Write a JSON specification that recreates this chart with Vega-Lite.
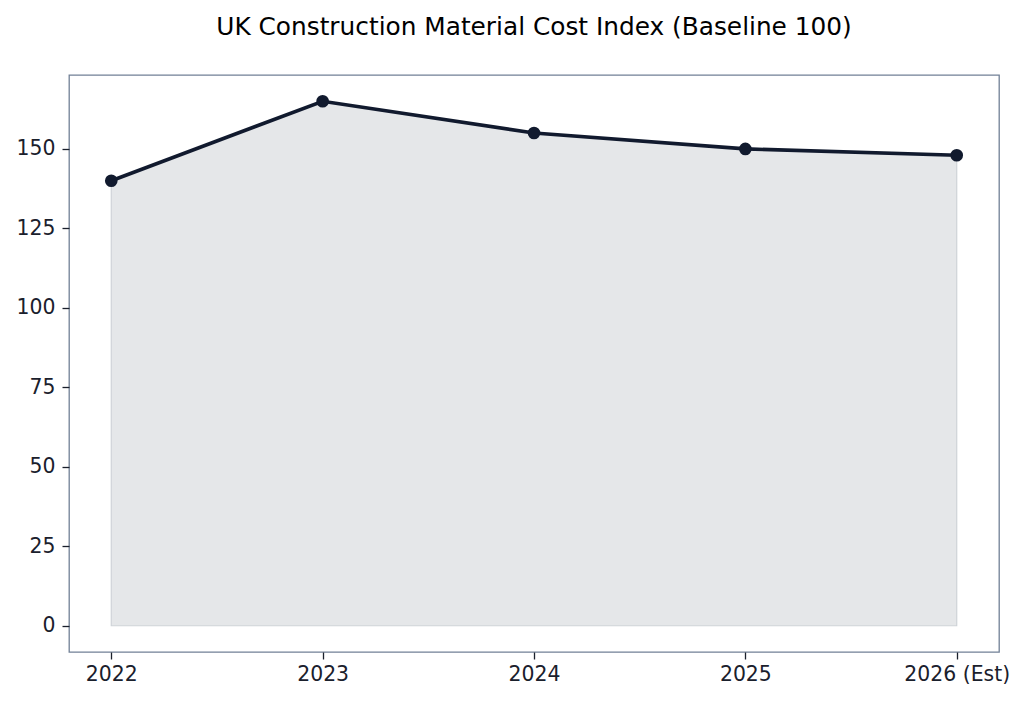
{
  "$schema": "https://vega.github.io/schema/vega-lite/v6.json",
  "width": 930,
  "height": 577,
  "autosize": {"type": "none"},
  "padding": {"left": 69, "top": 75, "right": 27, "bottom": 50},
  "background": "white",
  "title": {
    "text": "UK Construction Material Cost Index (Baseline 100)",
    "font": "DejaVu Sans",
    "fontSize": 24.8,
    "fontWeight": "normal",
    "color": "#000000",
    "anchor": "middle",
    "offset": 35
  },
  "config": {
    "view": {"stroke": "#718096", "strokeWidth": 1.3},
    "axis": {
      "labelFont": "DejaVu Sans",
      "labelFontSize": 20.4,
      "labelColor": "#1a202c",
      "tickColor": "#1a202c",
      "tickSize": 7,
      "tickWidth": 1.3,
      "domain": false,
      "grid": false,
      "title": null,
      "labelPadding": 5
    }
  },
  "data": {
    "values": [
      {"year": "2022", "value": 140},
      {"year": "2023", "value": 165},
      {"year": "2024", "value": 155},
      {"year": "2025", "value": 150},
      {"year": "2026 (Est)", "value": 148}
    ]
  },
  "encoding": {
    "x": {
      "field": "year",
      "type": "ordinal",
      "sort": null,
      "scale": {"type": "point", "padding": 0.2},
      "axis": {"labelAngle": 0}
    },
    "y": {
      "field": "value",
      "type": "quantitative",
      "scale": {"domain": [-8.25, 173.25], "nice": false, "zero": false},
      "axis": {"values": [0, 25, 50, 75, 100, 125, 150], "labelPadding": 7}
    }
  },
  "layer": [
    {
      "mark": {"type": "area", "color": "#e5e7e9", "stroke": "#cfd3d8", "strokeWidth": 1.2, "opacity": 1},
      "encoding": {"y2": {"datum": 0}}
    },
    {
      "mark": {"type": "line", "color": "#111a2e", "strokeWidth": 3.6}
    },
    {
      "mark": {"type": "point", "filled": true, "color": "#111a2e", "size": 160, "opacity": 1}
    }
  ]
}
